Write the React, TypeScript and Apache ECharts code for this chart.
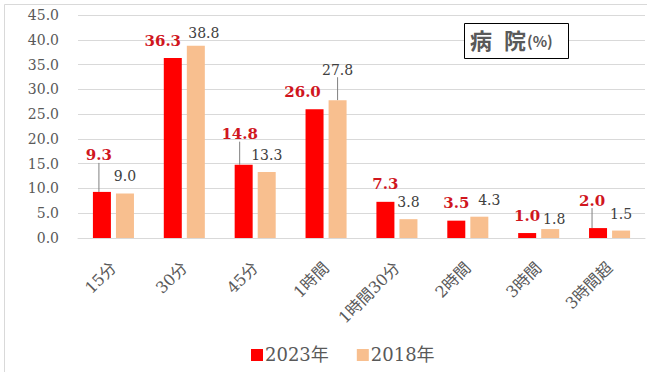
import React, { useEffect, useRef } from "react";
import * as echarts from "echarts";

const categories = ["15分", "30分", "45分", "1時間", "1時間30分", "2時間", "3時間", "3時間超"];
const series2023 = [9.3, 36.3, 14.8, 26.0, 7.3, 3.5, 1.0, 2.0];
const series2018 = [9.0, 38.8, 13.3, 27.8, 3.8, 4.3, 1.8, 1.5];
const seriesNames = ["2023年", "2018年"];
const yTicks = { min: 0, max: 45, interval: 5 };

// label nudges (dx, dy) that mimic the reference's hand-placed labels
const offsets2023: [number, number][] = [[-3, -19], [-10, 0], [-4, -13], [-12, 0], [0, 0], [0, 0], [0, 0], [-6, -10]];
const offsets2018: [number, number][] = [[0, 0], [8, 4], [0, 0], [0, -13], [0, 0], [10, 0], [4, 7], [0, 0]];
const leader2023 = [0, 2, 7];
const leader2018 = [3];

const SERIF = "'DejaVu Serif', 'Noto Sans CJK JP', serif";

export default function App() {
  const ref = useRef<HTMLDivElement>(null);
  useEffect(() => {
    if (!ref.current) return;
    const chart = echarts.init(ref.current, null, { renderer: "svg" });
    const mk = (vals: number[], leaders: number[]) =>
      vals.map((v, i) => ({
        value: v,
        labelLine: { show: leaders.includes(i), lineStyle: { color: "#808080", width: 1 } },
      }));
    chart.setOption({
      animation: false,
      backgroundColor: "#ffffff",
      grid: { left: 78, right: 2, top: 15, bottom: 134 },
      legend: {
        left: 246,
        top: 341,
        itemWidth: 12,
        itemHeight: 12,
        itemGap: 28,
        icon: "rect",
        textStyle: { fontFamily: SERIF, fontSize: 18, color: "#595959", padding: [0, 0, 0, -3] },
        data: seriesNames,
      },
      xAxis: {
        type: "category",
        data: categories,
        axisLine: { lineStyle: { color: "#d9d9d9" } },
        axisTick: { show: false },
        axisLabel: {
          interval: 0,
          rotate: 45,
          margin: 27,
          fontFamily: SERIF,
          fontSize: 16,
          color: "#595959",
        },
      },
      yAxis: {
        type: "value",
        min: yTicks.min,
        max: yTicks.max,
        interval: yTicks.interval,
        axisLine: { show: false },
        axisTick: { show: false },
        splitLine: { lineStyle: { color: "#d9d9d9" } },
        axisLabel: {
          margin: 19,
          fontFamily: SERIF,
          fontSize: 14,
          color: "#595959",
          formatter: (v: number) => v.toFixed(1),
        },
      },
      series: [
        {
          name: seriesNames[0],
          type: "bar",
          barWidth: 18,
          barGap: "28%",
          itemStyle: { color: "#ff0000" },
          data: mk(series2023, leader2023),
          label: {
            show: true,
            position: "top",
            distance: 10,
            fontFamily: SERIF,
            fontSize: 15,
            fontWeight: "bold",
            color: "#d0161e",
            formatter: (p: any) => Number(p.value).toFixed(1),
          },
          labelLayout: (p: any) => {
            const o = offsets2023[p.dataIndex];
            return { dx: o[0], dy: o[1] };
          },
        },
        {
          name: seriesNames[1],
          type: "bar",
          barWidth: 18,
          itemStyle: { color: "#f8bf8f" },
          data: mk(series2018, leader2018),
          label: {
            show: true,
            position: "top",
            distance: 10,
            fontFamily: SERIF,
            fontSize: 14,
            color: "#404040",
            formatter: (p: any) => Number(p.value).toFixed(1),
          },
          labelLayout: (p: any) => {
            const o = offsets2018[p.dataIndex];
            return { dx: o[0], dy: o[1] };
          },
        },
      ],
      graphic: [
        {
          type: "rect",
          left: 2,
          top: 2,
          shape: { width: 643, height: 368 },
          style: { fill: "none", stroke: "#d9d9d9", lineWidth: 1 },
          silent: true,
          z: -10,
        },
        {
          type: "rect",
          left: 464,
          top: 23,
          shape: { width: 104, height: 35 },
          style: { fill: "#ffffff", stroke: "#000000", lineWidth: 1 },
          z: 10,
        },
        {
          type: "text",
          left: 470,
          top: 28,
          z: 11,
          style: {
            text: "{a|病}{s| }{a|院}{b|(%)}",
            rich: {
              a: { fontFamily: "'Noto Sans CJK JP', sans-serif", fontSize: 22, fontWeight: "bold", fill: "#595959", verticalAlign: "bottom" },
              s: { fontSize: 22, width: 12 },
              b: { fontFamily: "'Noto Sans CJK JP', sans-serif", fontSize: 15, fontWeight: "bold", fill: "#595959", verticalAlign: "bottom", padding: [0, 0, 2, 1] },
            },
          },
        },
      ],
    });
    return () => chart.dispose();
  }, []);
  return <div ref={ref} style={{ position: "fixed", left: 0, top: 0, width: 647, height: 372 }} />;
}
